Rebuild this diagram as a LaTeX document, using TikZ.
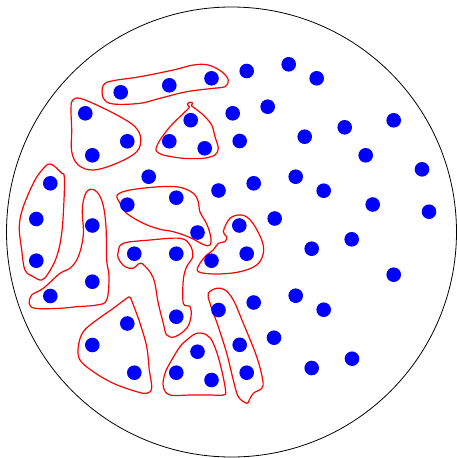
\documentclass[tikz,border=0pt]{standalone}
\begin{document}
\begin{tikzpicture}[x=1pt,y=-1pt,
  dot/.style={circle,fill=blue,draw=none,minimum size=14.6pt,inner sep=0pt},
  grp/.style={draw=red,line width=1.2pt,line join=round},
  outer/.style={draw=black,line width=0.8pt}]
\useasboundingbox (0,0) rectangle (456,458);
\draw[outer] (231.5,232) circle[radius=225pt];
% groups
\draw[grp] plot[smooth cycle,tension=0.6] coordinates {(103.3,85) (113.3,80.7) (140,76.7) (173.3,70) (193.3,65) (208.3,65) (221.7,71.7) (228.3,80) (225,86.7) (213.3,88.3) (186.7,91.7) (160,98.3) (140,103.3) (113.3,104) (103.3,98.3)};
\draw[grp] plot[smooth cycle,tension=0.6] coordinates {(72.7,100) (80,98.3) (96.7,105) (120,116.7) (135,126.7) (140.7,138.3) (136.7,151.7) (116.7,163.3) (93.3,170) (78.3,165) (71.7,151.7) (71.7,130) (71,108.3)};
\draw[grp] plot[smooth cycle,tension=0.5] coordinates {(192.7,106.7) (203.3,115) (211.7,125) (215,136.7) (218.3,148.3) (215,155) (203.3,158.3) (183.3,158.3) (163.3,155) (156,150) (160,140) (170,126.7) (181.7,115) (189.3,107.3) (187.3,104.5) (189.5,102.3) (192.5,103) (191.5,105.5)};
\draw[grp] plot[smooth cycle,tension=0.6] coordinates {(50,164) (55,166.7) (61.7,173.3) (64.3,176.7) (64,200) (61.7,233.3) (56.7,256.7) (48.3,273.3) (41.7,280) (33.3,276.7) (25,270) (21.7,250) (19.3,226.7) (23.3,206.7) (35,180) (45,166.7)};
\draw[grp] plot[smooth cycle,tension=0.6] coordinates {(90,189.3) (96.7,191.7) (102.7,203.3) (106,226.7) (106.7,260) (109,276.7) (106.7,300) (96.7,305) (76.7,306.7) (60,308.3) (35,308.3) (29.3,303.3) (31.7,295) (43.3,288.3) (60,273.3) (70,268.3) (78.3,256.7) (83.3,235) (82.3,210) (85,195)};
\draw[grp] plot[smooth cycle,tension=0.6] coordinates {(117.3,195) (130,190) (160,186.7) (180,187.3) (193.3,193.3) (198.3,201.7) (200,212) (206.7,224) (210.7,236.7) (210,245) (203.3,244.5) (190,237.5) (173.3,231.7) (160,229.3) (143.3,223.3) (126.7,213.3) (120,203.3)};
\draw[grp] plot[smooth cycle,tension=0.6] coordinates {(223.3,231.7) (230,218.3) (241.7,215) (251.7,221.7) (261.7,240) (263.3,253.3) (256.7,265) (240,271.7) (216.7,274) (198.3,271.7) (200,263.3) (206.7,255) (213.3,250) (218.3,243.3) (225,241.7) (226.7,236.7)};
\draw[grp] plot[smooth cycle,tension=0.6] coordinates {(118.3,251.7) (123.3,243.3) (150,240) (180,238.3) (190,245) (192.7,256.7) (186.7,266.7) (183.3,280) (183.3,303.3) (190,306.7) (191,316.7) (186.7,328.3) (175,336.7) (166.7,335) (163.3,323.3) (158.3,303.3) (153.3,278) (143.3,264.5) (138.3,264) (133.3,268.3) (125,266.7) (118.3,258.3)};
\draw[grp] plot[smooth cycle,tension=0.6] coordinates {(130,297.3) (132.7,303.3) (140,323.3) (146.7,346.7) (149.3,370) (151.7,388) (146.7,393.3) (136.7,391.7) (113.3,383.3) (93.3,371.7) (80,360) (78.3,346.7) (83.3,331.7) (96.7,320) (113.3,308.3) (126.7,298.3)};
\draw[grp] plot[smooth cycle,tension=0.6] coordinates {(196.7,333.3) (206.7,335) (213.3,343.3) (220,363.3) (225.5,390) (223.3,395) (210,395) (190,395) (170,395) (163.3,386.7) (165,373.3) (171.7,360) (180,346.7) (186.7,340)};
\draw[grp] plot[smooth cycle,tension=0.6] coordinates {(208.3,293.3) (216.7,288.3) (225,290) (233.3,300) (243.3,323.3) (256.7,356.7) (262.7,380) (261.7,388.3) (253.3,393.3) (249.3,400) (246.7,403.3) (238.3,396.7) (233.3,380) (226.7,353.3) (218.3,326.7) (210,303.3)};
% dots
\foreach \p [count=\i] in {
(120.7,92.3),(169.3,85.3),(211.5,78.3),(246.7,71),(288.7,64.3),(316.7,78.3),
(85.3,113.3),(190.7,120.2),(232.7,113.3),(267.7,106.7),
(127.3,141.3),(169.3,141.3),(204.7,148.3),(239.7,141),(304.7,136.7),(344.7,127.3),(393.7,120.3),
(92.3,155.3),(365.7,155.3),
(148.7,176.7),(218.5,190.5),(253.7,183.3),(295.7,176.7),(323.7,190.7),(422,169.3),
(50.3,183.3),(127.3,204.7),(176.3,197.7),(372.7,204.5),(429,211.7),
(36.3,219),(92.3,225.5),(274.7,218.5),(239.3,225.5),(197.5,232.5),(351.7,239.3),
(134.3,253.7),(176.3,253.7),(211.5,260.7),(246.7,253.7),(311.7,248.7),
(36.3,260.7),(393.7,274.7),
(50.3,296),(92.3,281.7),(218.5,310),(253.7,302.5),(295.7,295.7),(323.7,309.7),
(176.3,316.7),(127.3,323.5),
(92.3,345),(197.5,351.7),(239.7,344.8),(274,337.7),
(134.3,372.7),(176.3,372.7),(211.5,380),(246.7,372.7),(311.7,368),(352,358.7)}
  \node[dot] (d\i) at \p {};
\end{tikzpicture}
\end{document}
